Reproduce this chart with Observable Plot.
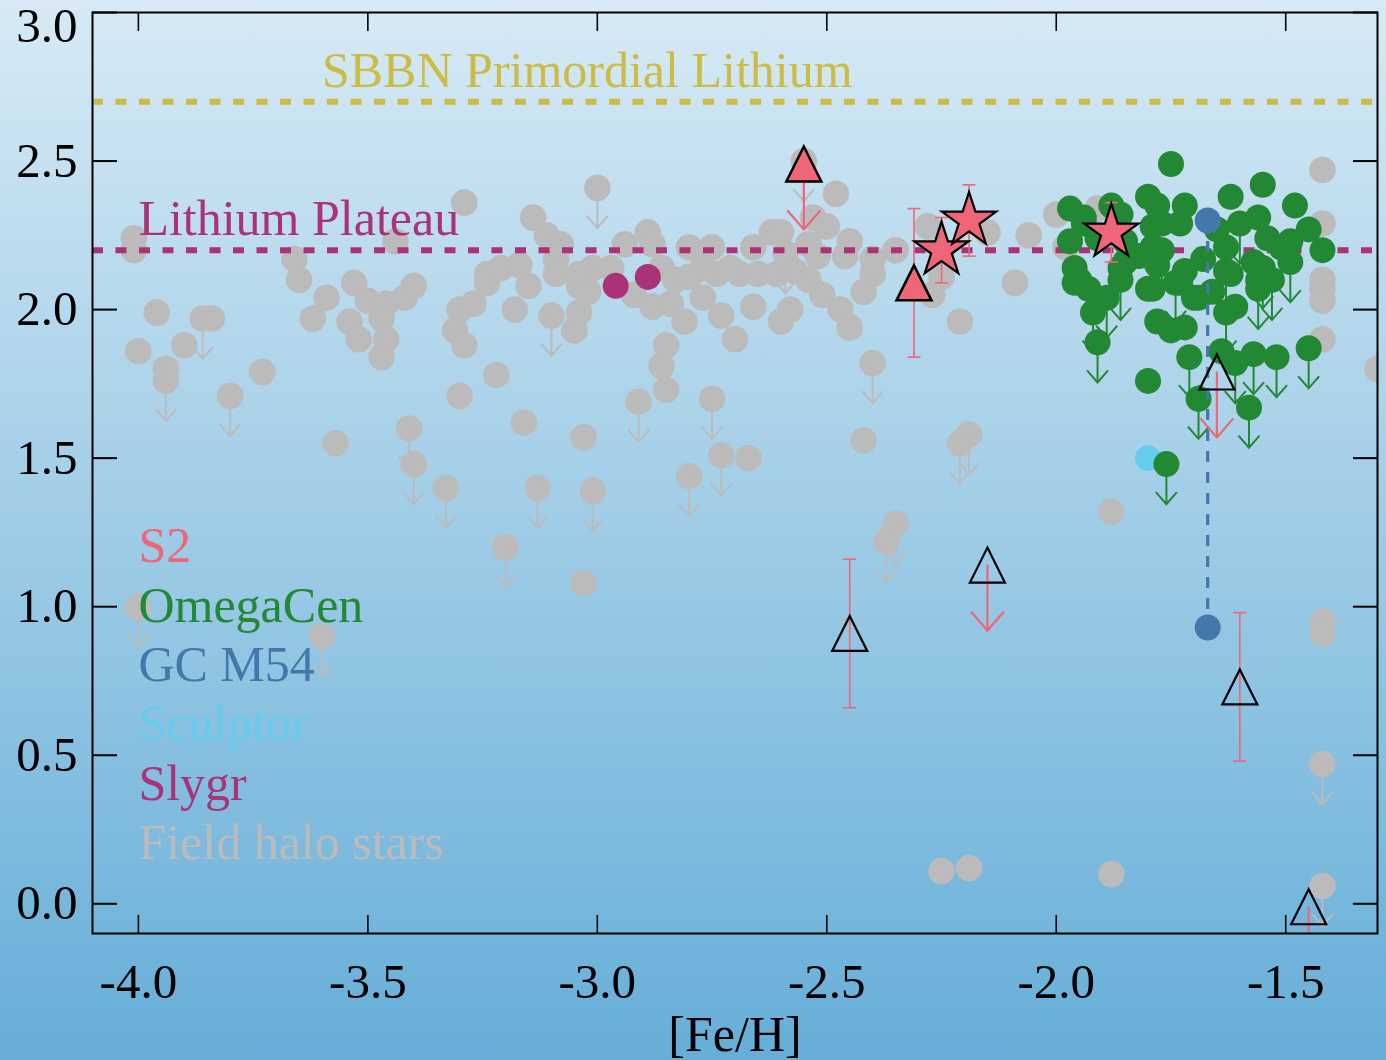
<!DOCTYPE html>
<html><head><meta charset="utf-8">
<script src="https://cdn.jsdelivr.net/npm/d3@7"></script>
<script src="https://cdn.jsdelivr.net/npm/@observablehq/plot@0.6"></script>
<style>
html,body{margin:0;padding:0;}
body{width:1386px;height:1060px;background:linear-gradient(to bottom,#d7eaf5 0%,#66aed8 100%);overflow:hidden;}
#chart svg{display:block;}
</style></head><body><div id="chart"></div>
<script>
// ---------- data ----------
const xTicks = [-4.0, -3.5, -3.0, -2.5, -2.0, -1.5];
const yTicks = [0.0, 0.5, 1.0, 1.5, 2.0, 2.5, 3.0];
const sbbnLi = 2.70;
const plateauLi = 2.20;
const legendNames = ["S2", "OmegaCen", "GC M54", "Sculptor", "Slygr", "Field halo stars"];

// Field halo stars
const haloFe = [-4.01,-4.01,-4.00,-3.96,-3.94,-3.94,-3.90,-3.86,-3.84,-3.80,-3.73,-3.66,-3.65,-3.62,-3.59,-3.53,-3.54,-3.52,-3.50,-3.46,-3.47,-3.46,-3.47,-3.42,-3.40,-3.44,-3.29,-3.24,-3.24,-3.21,-3.30,-3.27,-3.31,-3.29,-3.22,-3.30,-3.18,-3.17,-3.14,-3.11,-3.08,-3.09,-3.09,-3.15,-3.10,-3.05,-3.04,-3.04,-3.01,-3.00,-3.02,-2.97,-2.94,-2.92,-2.89,-2.88,-2.88,-2.84,-2.81,-2.85,-2.86,-2.85,-2.91,-2.75,-2.80,-2.77,-2.75,-2.74,-2.77,-2.73,-2.70,-2.66,-2.66,-2.69,-2.65,-2.62,-2.60,-2.61,-2.59,-2.58,-2.60,-2.54,-2.53,-2.50,-2.48,-2.54,-2.52,-2.51,-2.47,-2.45,-2.45,-2.46,-2.42,-2.40,-2.40,-2.35,-2.40,-2.28,-2.25,-2.27,-2.15,-2.06,-2.09,-2.21,-2.00,-1.91,-1.98,-1.42,-1.42,-1.42,-1.42,-1.42,-1.42,-1.30,-2.55,-3.16,-3.03,-3.13,-3.01,-3.20,-3.03,-2.80,-2.73,-2.67,-2.42,-2.35,-2.37,-2.19,-2.21,-1.88,-1.42,-1.42,-2.25,-2.19,-1.88,-1.42,-1.42,-4.00,-3.60,-3.41,-3.40,-3.33,-3.57,-3.04,-2.86,-2.83,-2.80,-2.71,-2.57];
const haloLi = [2.24,2.20,1.86,1.99,1.80,1.76,1.88,1.97,1.97,1.71,1.79,2.17,2.10,1.97,2.04,2.09,1.96,1.90,2.03,2.02,1.97,1.90,1.84,2.04,2.08,2.23,2.36,2.12,2.09,2.14,2.00,2.02,1.93,1.88,1.78,1.71,2.00,2.15,2.31,2.25,2.22,2.17,2.12,2.08,1.98,1.93,1.99,2.08,2.14,2.41,2.06,2.14,2.22,2.05,2.26,2.22,2.01,2.02,1.96,1.88,1.81,1.73,1.69,1.70,2.21,2.14,2.21,2.12,2.04,1.98,1.90,2.01,2.21,2.12,2.12,2.26,2.26,2.12,2.19,2.00,1.96,2.22,2.31,2.28,2.39,2.10,2.18,2.05,2.00,1.94,2.23,2.18,2.06,2.12,2.17,2.20,1.82,2.28,2.11,2.05,2.26,2.25,2.09,1.96,2.32,2.34,2.21,2.47,2.29,2.10,2.07,2.03,1.90,1.80,2.50,1.62,1.57,1.40,1.39,1.20,1.08,1.44,1.51,1.50,1.56,1.28,1.22,1.58,1.55,1.32,0.95,0.91,0.11,0.12,0.10,0.47,0.06,1.00,0.90,1.60,1.48,1.40,1.55,2.12,2.14,2.10,2.11,2.14,2.13];
const haloUpper = [0,0,0,0,0,1,0,1,0,1,0,0,0,0,0,0,0,0,0,0,0,0,0,0,0,0,0,0,0,0,0,0,0,0,0,0,0,0,0,0,0,0,0,0,1,0,0,0,0,1,0,0,0,0,0,0,0,0,0,0,0,0,1,1,0,0,0,0,0,0,0,0,0,0,0,0,0,0,1,0,0,0,0,0,0,0,0,0,0,0,0,0,0,0,0,0,1,0,0,0,0,0,0,0,0,0,0,0,0,0,0,0,0,0,1,0,0,1,1,1,0,1,1,0,0,1,1,1,1,0,0,0,0,0,0,1,1,1,1,1,1,1,0,0,0,0,0,0,0];

// Omega Cen
const omegaFe = [-1.75,-1.97,-1.94,-1.97,-1.88,-1.86,-1.91,-1.80,-1.78,-1.72,-1.79,-1.77,-1.73,-1.79,-1.77,-1.62,-1.55,-1.48,-1.60,-1.56,-1.54,-1.51,-1.45,-1.42,-1.63,-1.68,-1.72,-1.63,-1.57,-1.55,-1.49,-1.96,-1.95,-1.93,-1.92,-1.89,-1.86,-1.85,-1.80,-1.91,-1.78,-1.75,-1.72,-1.74,-1.69,-1.66,-1.63,-1.61,-1.56,-1.53,-1.71,-1.64,-1.61,-1.57,-1.52,-1.45,-1.80,-1.69,-1.58,-1.76,-1.94,-1.96,-1.86,-1.79,-1.73,-1.70,-1.62,-1.56,-1.85,-1.82,-1.78,-1.65,-1.49];
const omegaLi = [2.49,2.34,2.29,2.23,2.35,2.32,2.24,2.38,2.35,2.35,2.28,2.29,2.29,2.21,2.20,2.38,2.42,2.35,2.29,2.31,2.24,2.21,2.27,2.20,2.21,2.17,2.13,2.13,2.16,2.14,2.16,2.14,2.10,2.07,1.99,2.04,2.10,2.16,2.07,1.89,1.96,1.93,1.94,2.09,2.04,2.06,1.99,2.01,2.07,2.10,1.84,1.86,1.82,1.85,1.84,1.87,1.76,1.70,1.67,1.48,2.31,2.09,2.14,2.07,2.09,2.04,2.12,2.10,2.23,2.18,2.15,2.27,2.23];
const omegaUpper = [0,0,0,0,0,0,0,0,0,0,0,0,0,0,1,0,0,0,1,0,0,0,0,0,0,0,0,1,0,1,1,0,0,0,1,1,1,0,0,1,0,0,0,1,0,0,1,0,1,1,1,0,1,1,1,1,0,1,1,1,0,0,0,0,0,0,0,0,0,0,0,0,0];

// GC M54 (two measurements of the same star)
const m54Fe = [-1.67, -1.67];
const m54Li = [2.30, 0.93];

// Sculptor
const sculptorFe = [-1.80];
const sculptorLi = [1.50];

// Slygr
const slygrFe = [-2.96, -2.89];
const slygrLi = [2.08, 2.11];

// S2
const s2Fe    = [-2.55, -2.31, -2.25, -2.19, -1.88, -2.45, -2.15, -1.65, -1.60, -1.45];
const s2Li    = [ 2.49,  2.09,  2.20,  2.30,  2.26,  0.91,  1.14,  1.79,  0.73, -0.01];
const s2Err   = [ null,  0.25,  0.11,  0.12,  0.10,  0.25,  null,  null,  0.25,  null];
const s2Upper = [ 1, 0, 0, 0, 0, 0, 1, 1, 0, 1];
const s2Kind  = ["filled","filled","star","star","star","open","open","open","open","open"];

// ---------- styling ----------
const C = {s2:"#EE6677", omega:"#228833", m54:"#4477AA", sculptor:"#66CCEE", slygr:"#AA3377", halo:"#BBBBBB", sbbn:"#CCBB44", plateau:"#AA3377"};
const legendColors = [C.s2, C.omega, C.m54, C.sculptor, C.slygr, C.halo];
const FONT = "'Liberation Serif', 'Times New Roman', serif";
const LIM = 0.135, LIM_S2 = 0.22;

const symTri = {draw(c, s){ const r = Math.sqrt(s/Math.PI); c.moveTo(0,-r); c.lineTo(r,r); c.lineTo(-r,r); c.closePath(); }};
const symStar = {draw(c, s){ const R = Math.sqrt(s/Math.PI), ri = R*0.382;
  for (let k=0;k<10;k++){ const a = -Math.PI/2 + k*Math.PI/5, rr = k%2 ? ri : R; const px = rr*Math.cos(a), py = rr*Math.sin(a); if (k) c.lineTo(px,py); else c.moveTo(px,py); }
  c.closePath(); }};
const symVee = {draw(c, s){ const r = Math.sqrt(s/Math.PI); c.moveTo(-r,-1.15*r); c.lineTo(0,0); c.lineTo(r,-1.15*r); }};
const symCap = {draw(c, s){ const r = Math.sqrt(s/Math.PI); c.moveTo(-r,0); c.lineTo(r,0); }};

const rows = (fe, li, extra={}) => fe.map((f,i)=>{ const o = {fe:f, li:li[i]}; for (const k in extra) o[k] = extra[k][i]; return o; });
const halo = rows(haloFe, haloLi, {upper: haloUpper});
const omega = rows(omegaFe, omegaLi, {upper: omegaUpper});
const m54 = rows(m54Fe, m54Li);
const sculptor = rows(sculptorFe, sculptorLi);
const slygr = rows(slygrFe, slygrLi);
const s2 = rows(s2Fe, s2Li, {err: s2Err, upper: s2Upper, kind: s2Kind});
const haloUp = halo.filter(d=>d.upper), omegaUp = omega.filter(d=>d.upper);
const s2Up = s2.filter(d=>d.upper), s2E = s2.filter(d=>d.err != null);

function limitMarks(data, color, len, headR, sw){
  return [
    Plot.ruleX(data, {x:"fe", y1:"li", y2:d=>d.li-len, stroke:color, strokeWidth:sw, clip:true}),
    Plot.dot(data, {x:"fe", y:d=>d.li-len, symbol:symVee, r:headR, fill:"none", stroke:color, strokeWidth:sw, clip:true})
  ];
}

const legendMarks = legendNames.map((name,i)=>Plot.text([name], {x:()=>-4.0, y:()=>1.15-0.2*i, text:d=>d, textAnchor:"start", lineAnchor:"bottom", fill:legendColors[i], fontSize:50, fontFamily:FONT}));

const yLabelTicks = yTicks.filter(v => v < 3);
const yTopTick = yTicks.filter(v => v >= 3);

const chart = Plot.plot({
  width:1386, height:1060,
  marginLeft:92, marginRight:9, marginTop:12, marginBottom:127,
  x:{domain:[-4.1,-1.3]},
  y:{domain:[-0.1,3.0]},
  style:{background:"transparent", fontFamily:FONT, color:"black", overflow:"visible"},
  marks:[
    // field halo stars
    Plot.dot(halo, {x:"fe", y:"li", r:13.3, fill:C.halo, clip:true}),
    ...limitMarks(haloUp, C.halo, LIM, 10.5, 2),
    // reference lines & annotations
    Plot.ruleY([sbbnLi], {y:d=>d, stroke:C.sbbn, strokeWidth:6, strokeDasharray:"11,12.5"}),
    Plot.ruleY([plateauLi], {y:d=>d, stroke:C.plateau, strokeWidth:6, strokeDasharray:"11,12.5"}),
    Plot.text(["SBBN Primordial Lithium"], {x:()=>-3.6, y:()=>2.75, text:d=>d, textAnchor:"start", lineAnchor:"bottom", fill:C.sbbn, fontSize:50, fontFamily:FONT}),
    Plot.text(["Lithium Plateau"], {x:()=>-4.0, y:()=>2.25, text:d=>d, textAnchor:"start", lineAnchor:"bottom", fill:C.plateau, fontSize:50, fontFamily:FONT}),
    ...legendMarks,
    // Slygr, Sculptor
    Plot.dot(slygr, {x:"fe", y:"li", r:13, fill:C.slygr}),
    Plot.dot(sculptor, {x:"fe", y:"li", r:13, fill:C.sculptor}),
    // Omega Cen
    Plot.dot(omega, {x:"fe", y:"li", r:13, fill:C.omega, clip:true}),
    ...limitMarks(omegaUp, C.omega, LIM, 10.5, 2),
    // GC M54
    Plot.ruleX([m54Fe[0]], {x:d=>d, y1:()=>m54Li[0], y2:()=>m54Li[1]+0.05, stroke:C.m54, strokeWidth:3.2, strokeDasharray:"11,10"}),
    Plot.dot(m54, {x:"fe", y:"li", r:13, fill:C.m54}),
    // S2
    Plot.ruleX(s2E, {x:"fe", y1:d=>d.li-d.err, y2:d=>d.li+d.err, stroke:C.s2, strokeWidth:1.6}),
    Plot.dot(s2E, {x:"fe", y:d=>d.li-d.err, symbol:symCap, r:6.5, fill:"none", stroke:C.s2, strokeWidth:1.6}),
    Plot.dot(s2E, {x:"fe", y:d=>d.li+d.err, symbol:symCap, r:6.5, fill:"none", stroke:C.s2, strokeWidth:1.6}),
    ...limitMarks(s2Up, C.s2, LIM_S2, 16.5, 2.2),
    Plot.dot(s2.filter(d=>d.kind==="filled"), {x:"fe", y:"li", symbol:symTri, r:17.5, fill:C.s2, stroke:"black", strokeWidth:2.5, clip:true}),
    Plot.dot(s2.filter(d=>d.kind==="open"), {x:"fe", y:"li", symbol:symTri, r:17.5, fill:"none", stroke:"black", strokeWidth:2.2, clip:true}),
    Plot.dot(s2.filter(d=>d.kind==="star"), {x:"fe", y:"li", symbol:symStar, r:28.5, fill:C.s2, stroke:"black", strokeWidth:2.2}),
    // axes & frame
    Plot.axisX(xTicks, {anchor:"bottom", tickSize:-18, tickPadding:48, strokeWidth:1.6, tickFormat:d=>d.toFixed(1), fontSize:49, fontFamily:FONT, label:null}),
    Plot.axisX(xTicks, {anchor:"top", tickSize:-18, strokeWidth:1.6, tickFormat:()=>"", label:null}),
    Plot.axisY(yTicks, {anchor:"left", tickSize:-25, strokeWidth:2, tickFormat:()=>"", label:null}),
    Plot.axisY(yLabelTicks, {anchor:"left", tickSize:0, tickPadding:15, tickFormat:d=>d.toFixed(1), fontSize:49, fontFamily:FONT, label:null}),
    Plot.axisY(yTopTick, {anchor:"left", tickSize:0, tickPadding:15, dy:14, tickFormat:d=>d.toFixed(1), fontSize:49, fontFamily:FONT, label:null}),
    Plot.axisY(yTicks, {anchor:"right", tickSize:-25, strokeWidth:2, tickFormat:()=>"", label:null}),
    Plot.frame({stroke:"black", strokeWidth:2}),
    Plot.text(["[Fe/H]"], {frameAnchor:"bottom", dy:117, lineAnchor:"bottom", text:d=>d, fontSize:50, fontFamily:FONT, fill:"black"})
  ]
});
document.getElementById("chart").appendChild(chart);
</script></body></html>
